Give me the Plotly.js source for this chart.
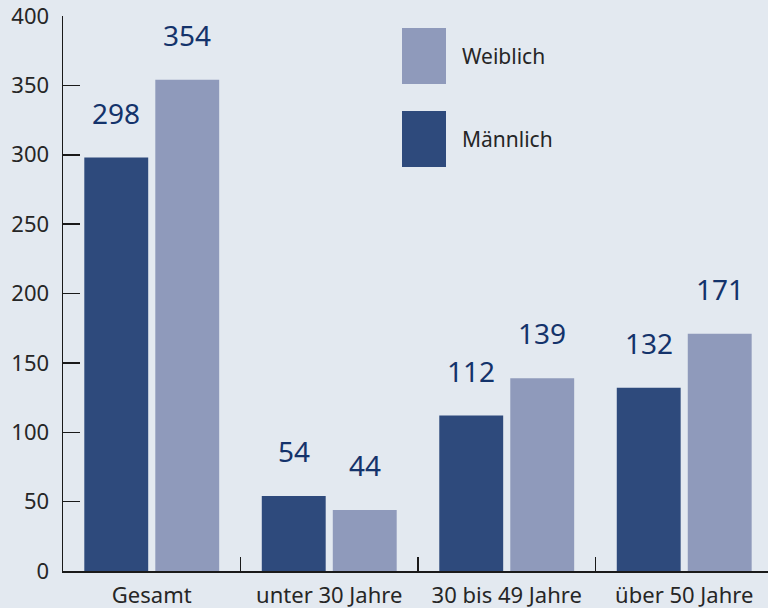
<!DOCTYPE html>
<html>
<head>
<meta charset="utf-8">
<script src="https://cdn.plot.ly/plotly-3.0.1.min.js"></script>
<style>html,body{margin:0;padding:0;background:#e3e9f0;}#chart{width:768px;height:608px;}</style>
</head>
<body>
<div id="chart"></div>
<script>
const categories = ["Gesamt", "unter 30 Jahre", "30 bis 49 Jahre", "über 50 Jahre"];
const maennlich = [298, 54, 112, 132];
const weiblich = [354, 44, 139, 171];
const seriesNames = ["Männlich", "Weiblich"];
const yTicks = [0, 50, 100, 150, 200, 250, 300, 350, 400];

const colM = "#2e4a7c";
const colW = "#8f9abb";
const labelCol = "#14336b";
const textCol = "#262626";
const font = "Noto Sans, Open Sans, sans-serif";

const traces = [
  {type: "bar", name: seriesNames[0], x: categories, y: maennlich, marker: {color: colM}, hoverinfo: "none"},
  {type: "bar", name: seriesNames[1], x: categories, y: weiblich, marker: {color: colW}, hoverinfo: "none"}
];

const annotations = [];
categories.forEach((c, i) => {
  annotations.push({x: i - 0.2, y: maennlich[i], xref: "x", yref: "y", text: String(maennlich[i]), showarrow: false, yshift: 45, font: {family: font, size: 28, color: labelCol}});
  annotations.push({x: i + 0.2, y: weiblich[i], xref: "x", yref: "y", text: String(weiblich[i]), showarrow: false, yshift: 45, font: {family: font, size: 28, color: labelCol}});
});
// legend (drawn manually)
annotations.push({xref: "paper", yref: "paper", x: (460-63)/705, y: 1 - (56-16)/555, xanchor: "left", yanchor: "middle", text: seriesNames[1], showarrow: false, font: {family: font, size: 21, color: textCol}});
annotations.push({xref: "paper", yref: "paper", x: (460-63)/705, y: 1 - (139-16)/555, xanchor: "left", yanchor: "middle", text: seriesNames[0], showarrow: false, font: {family: font, size: 21, color: textCol}});

const shapes = [
  {type: "rect", xref: "paper", yref: "paper", x0: (402-63)/705, x1: (446-63)/705, y0: 1 - (84-16)/555, y1: 1 - (28-16)/555, fillcolor: colW, line: {width: 0}},
  {type: "rect", xref: "paper", yref: "paper", x0: (402-63)/705, x1: (446-63)/705, y0: 1 - (167-16)/555, y1: 1 - (111-16)/555, fillcolor: colM, line: {width: 0}}
];

const layout = {
  width: 768, height: 608,
  margin: {l: 63, r: 0, t: 16, b: 37, pad: 0},
  paper_bgcolor: "#e3e9f0",
  plot_bgcolor: "#e3e9f0",
  showlegend: false,
  barmode: "group",
  bargap: 0.2,
  bargroupgap: 0.1,
  font: {family: font, color: textCol},
  xaxis: {
    type: "category",
    range: [-0.5, 3.472],
    showline: true, linecolor: "#1a1a1a", linewidth: 1.5,
    ticks: "inside", tickson: "boundaries", ticklen: 14, tickcolor: "#1a1a1a", tickwidth: 1.5,
    showgrid: false, zeroline: false,
    tickfont: {family: font, size: 22, color: textCol},
    ticklabelstandoff: 4,
    ticklabeloverflow: "allow",
    fixedrange: true
  },
  yaxis: {
    range: [0, 400],
    tickvals: yTicks,
    ticktext: yTicks.map(String),
    showline: true, linecolor: "#1a1a1a", linewidth: 1.5,
    ticks: "inside", ticklen: 17, tickcolor: "#1a1a1a", tickwidth: 1.5,
    showgrid: false, zeroline: false,
    tickfont: {family: font, size: 22, color: textCol},
    ticklabelstandoff: 8,
    ticklabeloverflow: "allow",
    fixedrange: true
  },
  annotations: annotations,
  shapes: shapes
};

Plotly.newPlot("chart", traces, layout, {displayModeBar: false, staticPlot: true});
</script>
</body>
</html>
